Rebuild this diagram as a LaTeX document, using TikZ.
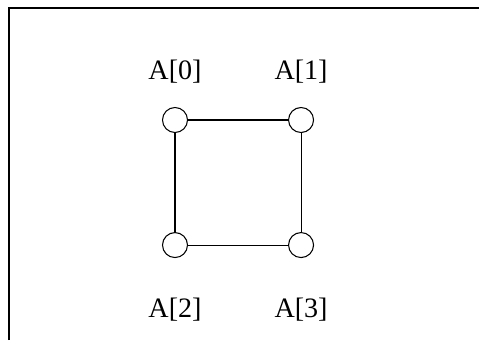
\documentclass[tikz,border=0pt]{standalone}
\usepackage{fontspec}
\setmainfont{Liberation Serif}
\usepackage{tikz}
\usetikzlibrary{positioning}
\tikzstyle{cellNode}=[circle, draw=black, fill=white, line width=0.6pt,
  minimum size=0.5cm, inner sep=0pt]
\tikzstyle{nameNode}=[font=\fontsize{16}{19}\selectfont, text=black]
\tikzstyle{link}=[line width=0.6pt, draw=black]

\begin{document}
\begin{tikzpicture}[node distance=2cm]
\useasboundingbox (-3.5,-4.4) rectangle (6.08,2.4);
\draw[line width=1pt] (-3.32,-4.4) |- (6.08,2.24);
\node[cellNode] (a0) at (0,0) {};
\node[cellNode, right=of a0] (a1) {};
\node[cellNode, below=1.98cm of a0] (a2) {};
\node[cellNode, right=of a2] (a3) {};
\node[nameNode, above=0.36cm of a0] (n0) {A[0]};
\node[nameNode, above=0.36cm of a1] (n1) {A[1]};
\node[nameNode, below=0.68cm of a2] (n2) {A[2]};
\node[nameNode, below=0.68cm of a3] (n3) {A[3]};
\draw[link] (a0) -- (a1);
\draw[link] (a0) -- (a2);
\draw[link] (a1) -- (a3);
\draw[link] (a2) -- (a3);
\end{tikzpicture}
\end{document}
